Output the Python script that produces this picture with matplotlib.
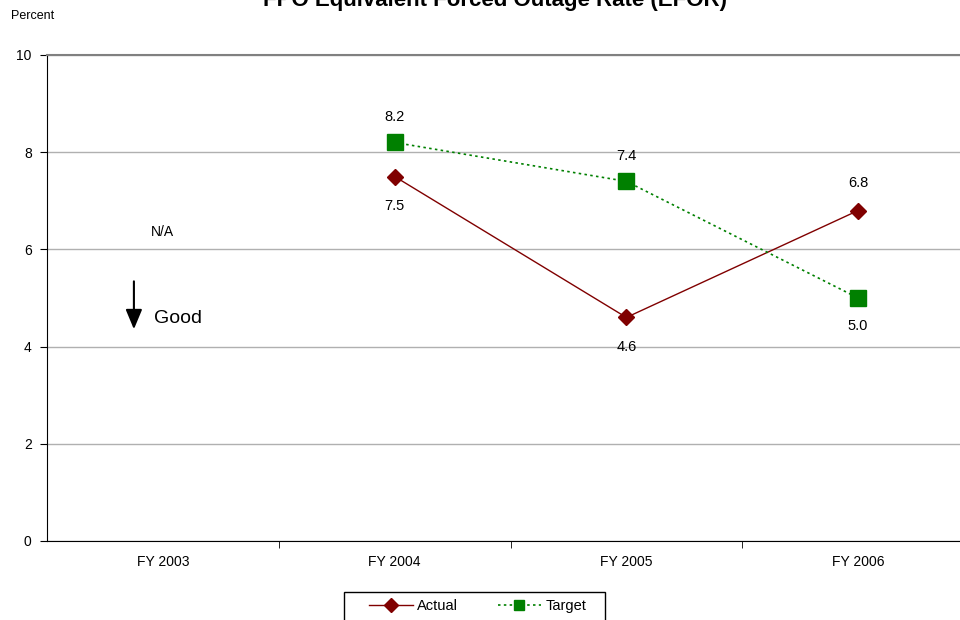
import numpy as np
import matplotlib
matplotlib.use("Agg")
from matplotlib import pyplot as plt
from matplotlib.patches import Rectangle

plt.rcParams['font.family'] = ['Liberation Sans', 'DejaVu Sans']

years = ["FY 2003", "FY 2004", "FY 2005", "FY 2006"]
actual = [np.nan, 7.5, 4.6, 6.8]
target = [np.nan, 8.2, 7.4, 5.0]

fig = plt.figure(figsize=(9.6, 6.2), dpi=100)
ax = fig.add_axes([47 / 960, 79 / 620, 927 / 960, 486 / 620])

X = np.arange(len(years))
ax.plot(X, actual, color="#800000", lw=1, marker="D", ms=8, label="Actual", zorder=3)
ax.plot(X, target, color="#008000", lw=1.2, ls=(0, (1.5, 2)), marker="s", ms=11,
        label="Target", zorder=3)

# value labels: the higher point gets its label above, the lower one below
for i in range(len(years)):
    a, t = actual[i], target[i]
    if np.isnan(a):
        continue
    a_up = a > t
    ax.annotate("%.1f" % a, (i, a), xytext=(0, 20 if a_up else -21), textcoords="offset points",
                ha="center", va="center", fontsize=10.5)
    ax.annotate("%.1f" % t, (i, t), xytext=(0, -20 if a_up else 18), textcoords="offset points",
                ha="center", va="center", fontsize=10.5)

ax.text(0, 6.35, "N/A", ha="center", va="center", fontsize=10)
ax.annotate("", xy=(-0.125, 4.3), xytext=(-0.125, 5.4),
            arrowprops=dict(arrowstyle="-|>,head_width=0.5,head_length=1.2", color="black", lw=1.5))
ax.text(-0.04, 4.57, "Good", ha="left", va="center", fontsize=14)

ax.set_xlim(-0.5, 3.5)
ax.set_ylim(0, 10)
ax.set_yticks([0, 2, 4, 6, 8, 10])
ax.set_xticks(X)
ax.set_xticklabels(years, fontsize=10)
ax.set_xticks(X[:-1] + 0.5, minor=True)
ax.tick_params(axis="x", which="major", length=0, pad=10)
ax.tick_params(axis="x", which="minor", length=5, color="black")
ax.tick_params(axis="y", length=5, labelsize=10, pad=6)
ax.yaxis.grid(True, color="#b0b0b0", lw=1)
ax.set_axisbelow(True)
for s in ["left", "bottom"]:
    ax.spines[s].set_color("black")
ax.spines["top"].set_color("#808080")
ax.spines["top"].set_linewidth(1.5)
ax.spines["right"].set_visible(False)

fig.text(11 / 960, 1 - 16 / 620, "Percent", fontsize=9, va="center")
fig.text(495 / 960, 1 - 6 / 620, "FPO Equivalent Forced Outage Rate (EFOR)", ha="center",
         va="baseline", fontsize=16, fontweight="bold")

# legend box at the bottom, partly below the figure edge
fig.patches.append(Rectangle((344 / 960, -0.02), 261 / 960, 1 - 592 / 620 + 0.02,
                             transform=fig.transFigure, fill=False, edgecolor="black", lw=1))
leg = fig.legend(loc="upper left", bbox_to_anchor=(369 / 960, 1 - 599 / 620), ncol=2,
                 frameon=False, fontsize=10.5, borderpad=0, borderaxespad=0,
                 handlelength=3.0, columnspacing=2.7, handletextpad=0.3)
for h in leg.legend_handles:
    h.set_markersize(7)

plt.savefig("out.png", dpi=100)
